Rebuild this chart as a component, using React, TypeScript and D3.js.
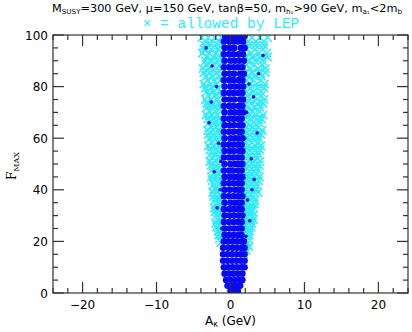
import React from 'react';
import * as d3 from 'd3';

const W = 412;
const H = 332;
const margin = { top: 35, right: 4, bottom: 39, left: 53 };

// each row: [F_MAX, A_kappa values...] (blue points)
const blueRows: number[][] = [
  [0.8, 0, 0.5, 1.0],
  [2.8, -0.4, 0.2, 0.8, 1.3],
  [5, -0.6, 0, 0.6, 1.2, 1.6],
  [7.5, -0.8, -0.2, 0.4, 1.0, 1.6],
  [10, -0.9, -0.3, 0.3, 0.9, 1.5, 1.9],
  [12.5, -1.0, -0.4, 0.2, 0.8, 1.4, 1.9],
  [15, -1.0, -0.4, 0.2, 0.8, 1.4, 1.9],
  [17.5, -1.0, -0.3, 0.3, 0.9, 1.5, 1.9],
  [20, -0.9, -0.3, 0.3, 0.9, 1.5, 1.8],
  [22.5, -0.8, -0.2, 0.4, 1.0, 1.5],
  [25, -0.8, -0.1, 0.5, 1.1, 1.5],
  [27.5, -0.9, -0.2, 0.4, 1.0, 1.5],
  [30, -0.8, -0.1, 0.5, 1.1, 1.6],
  [32.5, -0.9, -0.2, 0.4, 1.0, 1.5],
  [35, -0.8, 0, 0.6, 1.1, 1.5],
  [37.5, -0.9, -0.2, 0.4, 1.0, 1.6],
  [40, -0.8, -0.1, 0.6, 1.1, 1.5],
  [42.5, -0.9, -0.2, 0.4, 1.0, 1.5],
  [45, -0.8, -0.1, 0.5, 1.1, 1.6],
  [47.5, -0.9, -0.2, 0.3, 1.0, 1.5],
  [50, -0.8, 0, 0.6, 1.1, 1.6],
  [52.5, -0.9, -0.2, 0.4, 1.0, 1.5],
  [55, -0.8, -0.1, 0.5, 1.2, 1.6],
  [57.5, -0.9, -0.2, 0.4, 1.0, 1.5],
  [60, -0.8, 0, 0.6, 1.1, 1.6],
  [62.5, -0.9, -0.2, 0.4, 1.1, 1.5],
  [65, -0.8, -0.1, 0.5, 1.2, 1.6],
  [67.5, -0.9, -0.2, 0.4, 1.0, 1.5],
  [70, -0.8, 0, 0.6, 1.2, 1.7],
  [72.5, -0.9, -0.2, 0.4, 1.1, 1.6],
  [75, -0.8, -0.1, 0.5, 1.3, 1.7],
  [77.5, -0.9, -0.2, 0.4, 1.0, 1.6],
  [80, -0.8, 0, 0.6, 1.2, 1.7],
  [82.5, -0.9, -0.2, 0.4, 1.1, 1.6],
  [85, -0.8, -0.1, 0.5, 1.3, 1.8],
  [87.5, -0.9, -0.2, 0.4, 1.0, 1.6],
  [90, -0.8, 0, 0.6, 1.2, 1.8],
  [92.5, -0.9, -0.2, 0.4, 1.1, 1.7],
  [95, -0.8, -0.1, 0.5, 1.4, 1.9],
  [97.5, -0.9, -0.2, 0.4, 1.0, 1.7],
  [99.5, -0.7, 0, 0.6, 1.3, 1.9],
];

// cyan crosses = points allowed by LEP, rows [F_MAX, A_kappa values...]
const cyanRows: number[][] = [
  [99, -3.9, -3.0, -2.1, -1.2, 1.9, 2.9, 4.0, 5.0],
  [97.5, -3.4, -2.5, -1.5, 2.4, 3.4, 4.5],
  [96, -3.5, -2.6, -1.6, 2.4, 3.4, 4.5],
  [94.5, -3.6, -2.6, -1.7, 2.2, 3.3, 4.4],
  [93, -3.8, -2.9, -2.0, -1.1, 1.8, 2.8, 3.9, 4.9],
  [91.5, -3.2, -2.3, -1.4, 2.0, 3.0, 4.0, 5.0],
  [90, -3.4, -2.5, -1.5, 2.3, 3.3, 4.3],
  [88.5, -3.3, -2.4, -1.5, 2.2, 3.2, 4.3],
  [87, -3.7, -2.8, -1.9, -1.1, 1.8, 2.7, 3.7, 4.7],
  [85.5, -3.6, -2.8, -1.9, 1.9, 2.9, 3.9, 4.7],
  [84, -3.3, -2.4, -1.5, 2.3, 3.2, 4.2],
  [82.5, -3.1, -2.2, -1.3, 2.2, 3.1, 4.1],
  [81, -3.6, -2.7, -1.9, 1.8, 2.7, 3.6, 4.6],
  [79.5, -3.4, -2.6, -1.7, 1.8, 2.7, 3.7, 4.5],
  [78, -3.2, -2.3, -1.3, 2.2, 3.1, 4.1],
  [76.5, -3.0, -2.1, -1.2, 2.3, 3.2, 4.1],
  [75, -3.4, -2.6, -1.8, 1.8, 2.7, 3.6, 4.5],
  [73.5, -3.2, -2.4, -1.6, 1.9, 2.8, 3.7, 4.4],
  [72, -3.1, -2.2, -1.3, 2.3, 3.2, 4.0],
  [70.5, -2.9, -2.1, -1.2, 2.2, 3.0, 3.9],
  [69, -3.3, -2.5, -1.7, 1.8, 2.6, 3.5, 4.4],
  [67.5, -3.1, -2.3, -1.5, 1.8, 2.7, 3.6, 4.2],
  [66, -2.9, -2.1, -1.3, 2.2, 3.1, 3.9],
  [64.5, -2.7, -1.9, -1.2, 2.2, 3.0, 3.8],
  [63, -3.1, -2.3, -1.6, 1.8, 2.6, 3.4, 4.3],
  [61.5, -3.0, -2.2, -1.4, 1.8, 2.6, 3.5, 4.1],
  [60, -2.8, -2.0, -1.2, 2.2, 3.0, 3.8],
  [58.5, -2.6, -1.8, -1.1, 2.1, 2.9, 3.7],
  [57, -3.0, -2.2, -1.5, 1.7, 2.5, 3.4, 4.1],
  [55.5, -2.8, -2.0, -1.3, 1.8, 2.6, 3.4, 4.0],
  [54, -2.6, -1.9, -1.2, 2.1, 2.9, 3.7],
  [52.5, -2.5, -1.7, 2.1, 2.9, 3.6],
  [51, -2.8, -2.0, -1.3, 1.7, 2.5, 3.3, 4.0],
  [49.5, -2.6, -1.9, -1.2, 1.8, 2.5, 3.3, 3.9],
  [48, -2.4, -1.7, 2.1, 2.9, 3.6],
  [46.5, -2.3, -1.6, 2.1, 2.8, 3.5],
  [45, -2.6, -1.9, -1.2, 1.7, 2.5, 3.3, 3.9],
  [43.5, -2.5, -1.8, -1.1, 1.8, 2.5, 3.2, 3.8],
  [42, -2.3, -1.6, 2.1, 2.8, 3.5],
  [40.5, -2.1, -1.5, 2.0, 2.8, 3.4],
  [39, -2.4, -1.8, -1.1, 1.7, 2.4, 3.2, 3.7],
  [37.5, -2.3, -1.7, -1.1, 1.7, 2.4, 3.1],
  [36, -2.1, -1.5, 2.0, 2.7, 3.3],
  [34.5, -2.0, -1.4, 2.1, 2.7, 3.2],
  [33, -2.2, -1.6, -1.0, 1.7, 2.4, 3.1],
  [31.5, -2.1, -1.5, 1.8, 2.4, 2.9],
  [30, -1.9, -1.3, 2.0, 2.6, 3.0],
  [28.5, -1.8, -1.2, 2.0, 2.6, 3.1],
  [27, -2.0, -1.4, 1.7, 2.3, 2.9],
  [25.5, -1.9, -1.3, 1.8, 2.4, 2.8],
  [24, -1.7, -1.2, 1.9, 2.6],
  [22.5, -1.6, -1.1, 1.9, 2.5],
  [21, -1.5, 1.7, 2.4],
  [19.5, -1.3, 1.8, 2.3],
  [18, 2.0, 2.5],
  [16.5, 2.1],
  [15, 1.8],
];

// scattered blue points showing through the cyan bands, [A_kappa, F_MAX]
const blueLoose: number[][] = [
  [-2.5, 88], [-1.9, 80], [3.1, 76], [2.2, 70], [-2.9, 66], [3.6, 62],
  [-1.6, 58], [2.8, 52], [-2.2, 47], [3.2, 44], [-1.4, 40], [2.3, 36],
  [-1.8, 33], [2.6, 28], [-1.2, 25], [2.1, 22], [3.8, 85], [4.4, 92],
  [-3.3, 95], [1.9, 60], [-2.6, 74], [2.9, 40], [-1.3, 51], [2.5, 81],
];

const xMajor = [-20, -10, 0, 10, 20];
const xLabels = ['\u221220', '\u221210', '0', '10', '20'];
const yMajor = [0, 20, 40, 60, 80, 100];

const BLUE = '#0a0af0';
const CYAN = '#30ecf8';
const AXIS = '#333';

export default function App() {
  const x = d3.scaleLinear().domain([-24, 24]).range([margin.left, W - margin.right]);
  const y = d3.scaleLinear().domain([0, 100]).range([H - margin.bottom, margin.top]);
  const [x0, x1] = x.range();
  const [y0, y1] = y.range();

  const blue = blueRows.flatMap(([f, ...as]) => as.map(a => ({ a, f })));
  const cyan = cyanRows.flatMap(([f, ...as]) => as.map(a => ({ a, f })));

  const xMinor = d3.range(-24, 25, 2).filter(v => !xMajor.includes(v));
  const yMinor = d3.range(0, 101, 5).filter(v => !yMajor.includes(v));
  const s = 4.2;
  const cross = (cx: number, cy: number) =>
    `M${cx - s},${cy - s}L${cx + s},${cy + s}M${cx - s},${cy + s}L${cx + s},${cy - s}`;

  return (
    <svg width={W} height={H} style={{ position: 'absolute', left: 0, top: 0, background: '#fff' }}>
      <defs>
        <clipPath id="plot">
          <rect x={x0} y={y1} width={x1 - x0} height={y0 - y1} />
        </clipPath>
      </defs>

      <g clipPath="url(#plot)">
        <path
          d={cyan.map(d => cross(x(d.a), y(d.f))).join('')}
          stroke={CYAN}
          strokeWidth={1.6}
          fill="none"
        />
        {blue.map((d, i) => (
          <circle key={'b' + i} cx={x(d.a)} cy={y(d.f)} r={3.3} fill={BLUE} />
        ))}
        {blueLoose.map((d, i) => (
          <circle key={'l' + i} cx={x(d[0])} cy={y(d[1])} r={1.8} fill={BLUE} />
        ))}
      </g>

      {/* frame and ticks on all four sides */}
      <rect x={x0} y={y1} width={x1 - x0} height={y0 - y1} fill="none" stroke={AXIS} strokeWidth={1.2} />
      <g stroke={AXIS} strokeWidth={1.2}>
        {xMajor.map(v => (
          <g key={'xm' + v}>
            <line x1={x(v)} x2={x(v)} y1={y0} y2={y0 - 11} />
            <line x1={x(v)} x2={x(v)} y1={y1} y2={y1 + 11} />
          </g>
        ))}
        {xMinor.map(v => (
          <g key={'xn' + v}>
            <line x1={x(v)} x2={x(v)} y1={y0} y2={y0 - 5} />
            <line x1={x(v)} x2={x(v)} y1={y1} y2={y1 + 5} />
          </g>
        ))}
        {yMajor.map(v => (
          <g key={'ym' + v}>
            <line x1={x0} x2={x0 + 11} y1={y(v)} y2={y(v)} />
            <line x1={x1} x2={x1 - 11} y1={y(v)} y2={y(v)} />
          </g>
        ))}
        {yMinor.map(v => (
          <g key={'yn' + v}>
            <line x1={x0} x2={x0 + 5} y1={y(v)} y2={y(v)} />
            <line x1={x1} x2={x1 - 5} y1={y(v)} y2={y(v)} />
          </g>
        ))}
      </g>

      <g fontFamily="DejaVu Sans" fontSize={12} fill="#000">
        {xMajor.map((v, i) => (
          <text key={'xl' + v} x={x(v)} y={y0 + 16} textAnchor="middle">{xLabels[i]}</text>
        ))}
        {yMajor.map(v => (
          <text key={'yl' + v} x={x0 - 5} y={y(v) + 4.5} textAnchor="end">{v}</text>
        ))}
        <text x={x(0)} y={H - 7} textAnchor="middle">
          A<tspan fontSize={8} dy={2}>κ</tspan><tspan dy={-2}> (GeV)</tspan>
        </text>
        <text transform={`translate(16,${(y0 + y1) / 2 + 2}) rotate(-90)`} textAnchor="middle" fontFamily="DejaVu Serif">
          F<tspan fontSize={8} dy={3}>MAX</tspan>
        </text>
      </g>

      <text x={227} y={12} textAnchor="middle" fontFamily="DejaVu Sans" fontSize={11} fill="#000"
        textLength={350} lengthAdjust="spacingAndGlyphs">
        M<tspan fontSize={7} dy={2}>SUSY</tspan><tspan dy={-2}>=300 GeV, μ=150 GeV, tanβ=50, m</tspan>
        <tspan fontSize={7} dy={2}>h₁</tspan><tspan dy={-2}>&gt;90 GeV, m</tspan>
        <tspan fontSize={7} dy={2}>a₁</tspan><tspan dy={-2}>&lt;2m</tspan>
        <tspan fontSize={7} dy={2}>b</tspan>
      </text>
      <text x={221} y={28} textAnchor="middle" fontFamily="Liberation Mono" fontSize={14.5} fill={CYAN}>
        × = allowed by LEP
      </text>
    </svg>
  );
}
